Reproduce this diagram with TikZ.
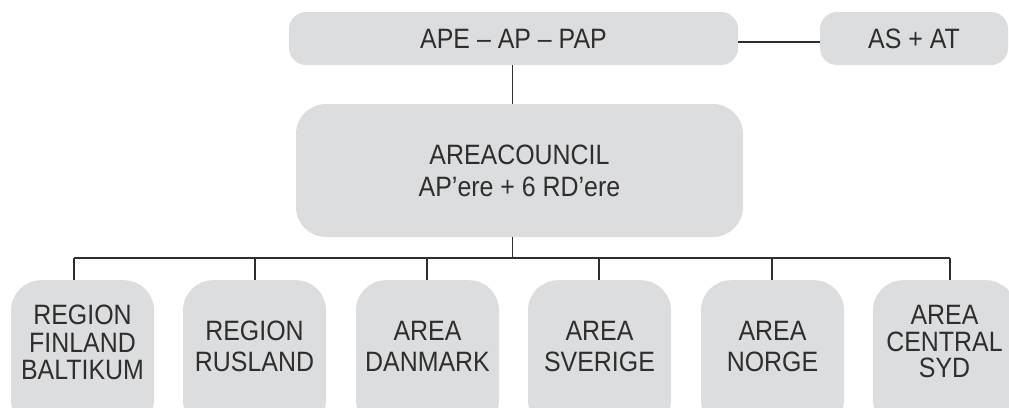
\documentclass[tikz,border=0pt]{standalone}
\usepackage{fontspec}
\setmainfont{Liberation Sans}[FakeStretch=0.89]
\definecolor{boxgray}{HTML}{DCDDDF}
\definecolor{ink}{HTML}{2E2E2E}
\begin{document}
\begin{tikzpicture}[x=1pt,y=-1pt,
  box/.style={fill=boxgray,draw=none},
  lbl/.style={inner sep=0pt,text=ink,align=center,font=\fontsize{28}{31}\selectfont},
  lbl3/.style={lbl,font=\fontsize{28}{27.5}\selectfont},
  conn/.style={draw=ink,line width=1.2pt}]
\useasboundingbox (0,0) rectangle (1009,407);
\begin{scope}
\clip (0,0) rectangle (1009,407);
% top row
\node[box,rounded corners=17pt,minimum width=449pt,minimum height=53pt,inner sep=0pt] (top) at (513.5,38.5) {};
\node[box,rounded corners=17pt,minimum width=188pt,minimum height=53pt,inner sep=0pt] (asat) at (914,38.5) {};
\node[lbl] (toptxt) at (top.center) {APE – AP – PAP};
\node[lbl] (asattxt) at (asat.center) {AS + AT};
% middle
\node[box,rounded corners=30pt,minimum width=447pt,minimum height=133pt,inner sep=0pt] (mid) at (519.5,170.5) {};
\node[lbl,font=\fontsize{28}{32}\selectfont] (midtxt) at (mid.center) {AREACOUNCIL\\AP’ere + 6 RD’ere};
% bottom boxes
\foreach \n/\x in {b1/82.5,b2/254.5,b3/427.5,b4/599.5,b5/772.5,b6/944.5}{
  \node[box,rounded corners=30pt,minimum width=143pt,minimum height=150pt,inner sep=0pt,anchor=north] (\n) at (\x,280) {};
}
\node[lbl3] (t1) at (82.5,342.5) {REGION\\FINLAND\\BALTIKUM};
\node[lbl] (t2) at (254.5,346) {REGION\\RUSLAND};
\node[lbl] (t3) at (427.5,346) {AREA\\DANMARK};
\node[lbl] (t4) at (599.5,346) {AREA\\SVERIGE};
\node[lbl] (t5) at (772.5,346) {AREA\\NORGE};
\node[lbl3,font=\fontsize{28}{26.5}\selectfont] (t6) at (944.5,341.5) {AREA\\CENTRAL\\SYD};
% connectors
\draw[conn] (top.east |- 0,42) -- (asat.west |- 0,42);
\coordinate (trunk) at (512.5,258);
\draw[conn] (top.south -| trunk) -- (mid.north -| trunk);
\draw[conn] (mid.south -| trunk) -- (trunk);
\coordinate (d1) at (74,258);
\coordinate (d6) at (950,258);
\draw[conn] (d1) -- (d6);
\draw[conn] (d1) -- (b1.north -| d1);
\draw[conn] (d6) -- (b6.north -| d6);
\foreach \n/\x in {b2/255,b3/427,b4/599,b5/772}{
  \draw[conn] (\x,258) -- (\n.north -| \x,0);
}
\end{scope}
\end{tikzpicture}
\end{document}
